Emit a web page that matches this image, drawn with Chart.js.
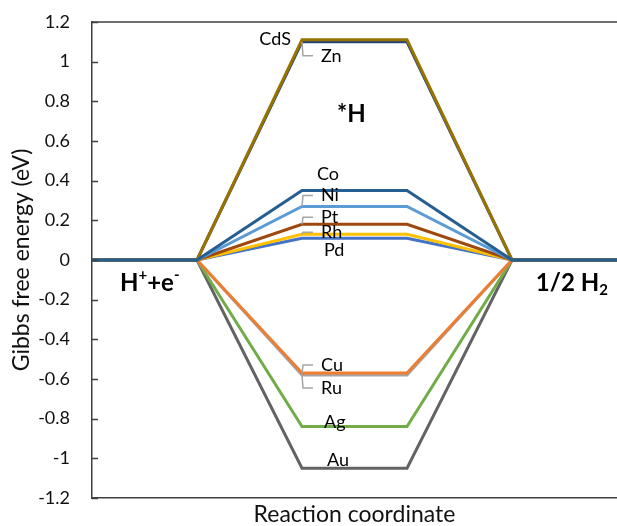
<!DOCTYPE html>
<html>
<head>
<meta charset="utf-8">
<script src="https://cdn.jsdelivr.net/npm/chart.js@4"></script>
<style>
html, body { margin: 0; padding: 0; background: #fff; }
</style>
</head>
<body>
<canvas id="chart" width="617" height="526"></canvas>
<script>
// reaction steps along x: start, H+ + e-, *H, *H, 1/2 H2, end
const steps = [0, 1, 2, 3, 4, 5]
const metals = ['Co', 'CdS', 'Zn', 'Ni', 'Pt', 'Rh', 'Pd', 'Cu', 'Ru', 'Ag', 'Au']
const deltaGH = [0.35, 1.11, 1.10, 0.27, 0.18, 0.13, 0.11, -0.57, -0.58, -0.84, -1.05]
const lineColors = ['#255E91', '#997300', '#264478', '#5B9BD5', '#9E480E', '#FFC000', '#4472C4', '#ED7D31', '#A5A5A5', '#70AD47', '#636363']
const yTicks = [-1.2, -1, -0.8, -0.6, -0.4, -0.2, 0, 0.2, 0.4, 0.6, 0.8, 1, 1.2]

const FONT = 'Lato'
const AXIS = '#404040'

// label offsets (px) from the left corner of each plateau
const labelOffsets = {
    CdS: [-11, -1, 'right', false],
    Zn: [19, 14, 'left', true],
    Co: [15, -16, 'left', false],
    Ni: [19, -11, 'left', true],
    Pt: [19, -7, 'left', true],
    Rh: [19, -2, 'left', true],
    Pd: [22, 12, 'left', false],
    Cu: [19, -8, 'left', true],
    Ru: [19, 13, 'left', true],
    Ag: [22, -4, 'left', false],
    Au: [25, -8, 'left', false]
}

function drawRich(ctx, parts, cx, cy, size) {
    // parts: [text, 'n' | 'sup' | 'sub']
    const fontFor = k => 'bold ' + (k === 'n' ? size : Math.round(size * 0.62)) + 'px ' + FONT
    let w = 0
    parts.forEach(p => { ctx.font = fontFor(p[1]); w += ctx.measureText(p[0]).width })
    let x = cx - w / 2
    ctx.textAlign = 'left'
    ctx.textBaseline = 'middle'
    parts.forEach(p => {
        ctx.font = fontFor(p[1])
        const dy = p[1] === 'sup' ? -size * 0.33 : p[1] === 'sub' ? size * 0.3 : 0
        ctx.fillText(p[0], x, cy + dy)
        x += ctx.measureText(p[0]).width
    })
}

const annotations = {
    id: 'annotations',
    afterDatasetsDraw(chart) {
        const {ctx, chartArea, scales: {x, y}} = chart
        ctx.save()
        // inward tick marks and top frame line
        ctx.strokeStyle = AXIS
        ctx.lineWidth = 1.5
        yTicks.forEach(v => {
            const py = Math.round(y.getPixelForValue(v)) + 0.5
            ctx.beginPath()
            ctx.moveTo(chartArea.left, py)
            ctx.lineTo(chartArea.left + 6, py)
            ctx.stroke()
        })
        ctx.beginPath()
        ctx.moveTo(chartArea.left, chartArea.top)
        ctx.lineTo(chartArea.right, chartArea.top)
        ctx.stroke()

        // series labels with leader lines
        const px = x.getPixelForValue(2)
        metals.forEach((m, i) => {
            const [dx, dy, align, leader] = labelOffsets[m]
            const py = y.getPixelForValue(deltaGH[i])
            const ly = py + dy
            if (leader) {
                ctx.strokeStyle = '#A5A5A5'
                ctx.lineWidth = 1.5
                ctx.beginPath()
                ctx.moveTo(px, py)
                ctx.lineTo(px + 1, ly)
                ctx.lineTo(px + dx - 8, ly)
                ctx.stroke()
            }
            ctx.fillStyle = '#000'
            ctx.font = '18px ' + FONT
            ctx.textAlign = align
            ctx.textBaseline = 'middle'
            ctx.fillText(m, px + dx, ly)
        })

        // state labels
        ctx.fillStyle = '#000'
        drawRich(ctx, [['*H', 'n']], x.getPixelForValue(2.47), y.getPixelForValue(0.735), 24)
        drawRich(ctx, [['H', 'n'], ['+', 'sup'], ['+e', 'n'], ['-', 'sup']], x.getPixelForValue(0.55), y.getPixelForValue(-0.115), 24)
        drawRich(ctx, [['1/2 H', 'n'], ['2', 'sub']], x.getPixelForValue(4.57), y.getPixelForValue(-0.115), 24)
        ctx.restore()
    }
}

new Chart(document.getElementById('chart'), {
    type: 'line',
    data: {
        labels: steps,
        datasets: metals.map((m, i) => ({
            label: m,
            data: [0, 0, deltaGH[i], deltaGH[i], 0, 0],
            borderColor: lineColors[i],
            backgroundColor: lineColors[i],
            borderWidth: 3,
            pointRadius: 0,
            tension: 0,
            fill: false
        }))
    },
    options: {
        responsive: false,
        animation: false,
        layout: { padding: { top: 22, right: 0, bottom: 0, left: 0 } },
        plugins: { legend: { display: false }, tooltip: { enabled: false } },
        scales: {
            x: {
                offset: false,
                grid: { display: false, drawTicks: false },
                border: { display: true, color: AXIS, width: 1.5 },
                ticks: { display: false },
                afterFit: s => { s.height = 28; s.paddingLeft = 0; s.paddingRight = 0 },
                title: {
                    display: true,
                    text: 'Reaction coordinate',
                    color: '#111',
                    font: { family: FONT, size: 23, lineHeight: 1 },
                    padding: { top: 0, bottom: 0 }
                }
            },
            y: {
                min: -1.2,
                max: 1.2,
                afterBuildTicks: s => { s.ticks = yTicks.map(v => ({value: v})) },
                afterFit: s => { s.width = 92; s.paddingTop = 0; s.paddingBottom = 0 },
                grid: { display: false, drawTicks: false },
                border: { display: true, color: AXIS, width: 1.5 },
                ticks: {
                    padding: 22,
                    color: '#111',
                    font: { family: FONT, size: 18 },
                    callback: v => String(Math.round(v * 10) / 10)
                },
                title: {
                    display: true,
                    text: 'Gibbs free energy (eV)',
                    color: '#111',
                    font: { family: FONT, size: 23, lineHeight: 1 },
                    padding: { top: 10, bottom: 0 }
                }
            }
        }
    },
    plugins: [annotations]
})
</script>
</body>
</html>
